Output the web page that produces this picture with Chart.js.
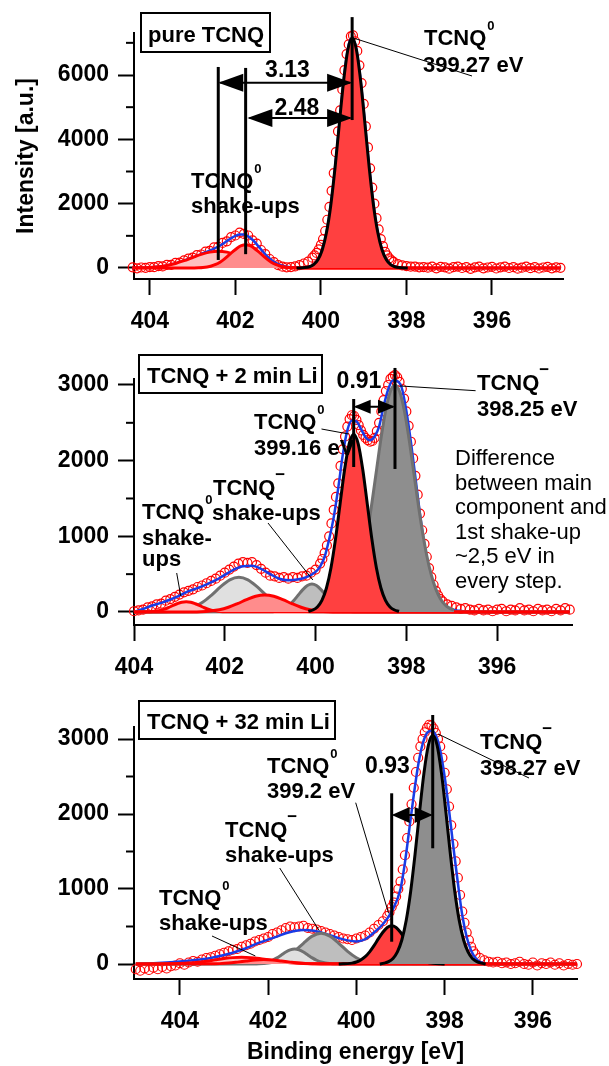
<!DOCTYPE html>
<html>
<head>
<meta charset="utf-8">
<script src="https://cdn.jsdelivr.net/npm/chart.js@4.4.1/dist/chart.umd.min.js"></script>
<style>
html, body { margin: 0; padding: 0; background: #fff; }
#wrap { position: relative; width: 609px; height: 1066px; background: #fff; }
canvas { position: absolute; left: 0; }
</style>
</head>
<body>
<div id="wrap">
  <canvas id="c1" width="609" height="340" style="top:0;width:609px;height:340px"></canvas>
  <canvas id="c2" width="609" height="345" style="top:340px;width:609px;height:345px"></canvas>
  <canvas id="c3" width="609" height="381" style="top:685px;width:609px;height:381px"></canvas>
</div>
<script>
// ---- axis ticks ----
const X_TICKS = [404, 402, 400, 398, 396];
const Y_TICKS_1 = [0, 2000, 4000, 6000];
const Y_MINOR_1 = [1000, 3000, 5000, 7000];
const Y_TICKS_23 = [0, 1000, 2000, 3000];
const Y_MINOR_23 = [500, 1500, 2500];

// ---- panel 1: pure TCNQ ----
const P1_E = [
  404.4, 404.3, 404.2, 404.1, 404.0, 403.9, 403.8, 403.7, 403.6, 403.5,
  403.4, 403.3, 403.2, 403.1, 403.0, 402.9, 402.8, 402.7, 402.6, 402.5,
  402.4, 402.3, 402.2, 402.1, 402.0, 401.9, 401.8, 401.7, 401.6, 401.5,
  401.4, 401.3, 401.2, 401.1, 401.0, 400.9, 400.8, 400.7, 400.6, 400.5,
  400.4, 400.3, 400.2, 400.15, 400.1, 400.05, 400.0, 399.95, 399.9, 399.85,
  399.8, 399.75, 399.7, 399.65, 399.6, 399.55, 399.5, 399.45, 399.4, 399.35,
  399.3, 399.25, 399.2, 399.15, 399.1, 399.05, 399.0, 398.95, 398.9, 398.85,
  398.8, 398.75, 398.7, 398.65, 398.6, 398.55, 398.5, 398.45, 398.4, 398.35,
  398.3, 398.2, 398.1, 398.0, 397.9, 397.8, 397.7, 397.6, 397.5,
  397.4, 397.3, 397.2, 397.1, 397.0, 396.9, 396.8, 396.7, 396.6, 396.5,
  396.4, 396.3, 396.2, 396.1, 396.0, 395.9, 395.8, 395.7, 395.6, 395.5,
  395.4, 395.3, 395.2, 395.1, 395.0, 394.9, 394.8, 394.7, 394.6, 394.5,
  394.4];
const P1_I = [
  20, -10, 15, 5, 30, 25, 60, 50, 95, 100,
  160, 170, 240, 290, 320, 400, 420, 510, 530, 640,
  660, 780, 830, 960, 1010, 1100, 1060, 1010, 860, 760,
  560, 430, 280, 180, 90, 40, 20, 30, 50, 90,
  140, 200, 320, 390, 470, 580, 720, 900, 1150, 1500,
  1900, 2400, 2950, 3600, 4250, 4900, 5550, 6150, 6650, 6950,
  7200, 7230, 7050, 6750, 6300, 5750, 5100, 4400, 3750, 3100,
  2500, 2000, 1550, 1200, 900, 680, 500, 390, 300, 240,
  190, 120, 80, 60, 40, 45, 20, 30, 10,
  40, -10, 35, 20, -20, 25, 45, 0, 30, -25,
  20, 40, -10, 15, 35, -15, 20, 45, 0, 25,
  -20, 10, 40, -5, 25, -15, 15, 35, -10, 20,
  5];
const P1_FIT_E = [404.4, 404.2, 404.0, 403.8, 403.6, 403.4, 403.2, 403.0, 402.8, 402.6,
  402.4, 402.3, 402.2, 402.1, 402.0, 401.9, 401.8, 401.7, 401.6, 401.5,
  401.4, 401.3, 401.2, 401.1, 401.0, 400.9, 400.8, 400.6, 400.4, 400.3,
  400.2, 400.1, 400.0, 399.9, 399.8, 399.7, 399.6, 399.5, 399.4, 399.3,
  399.2, 399.1, 399.0, 398.9, 398.8, 398.7, 398.6, 398.5, 398.4, 398.3,
  398.2, 398.0, 394.4];
const P1_FIT_I = [3, 8, 19, 41, 80, 142, 227, 326, 433, 541,
  669, 747, 835, 924, 999, 1044, 1042, 985, 879, 736,
  579, 427, 296, 193, 119, 70, 40, 13, 8, 29,
  79, 199, 447, 906, 1659, 2732, 4056, 5429, 6548, 7117,
  6970, 6152, 4894, 3508, 2266, 1319, 691, 327, 139, 54,
  18, 2, 0];
const P1_MAIN_E = [400.57, 400.37, 400.27, 400.17, 400.07, 399.97, 399.87, 399.77, 399.67, 399.57, 399.47, 399.37,
  399.27, 399.17, 399.07, 398.97, 398.87, 398.77, 398.67, 398.57, 398.47, 398.37, 398.27, 398.17, 397.97];
const P1_MAIN_I = [0, 13, 39, 106, 257, 558, 1101, 1945, 3110, 4476, 5806, 6785,
  7150, 6785, 5806, 4476, 3110, 1945, 1101, 558, 257, 106, 39, 13, 0];
const P1_SU1_E = [404.4, 404.2, 404.0, 403.8, 403.6, 403.4, 403.2, 403.0, 402.8, 402.6, 402.4,
  402.2, 402.0, 401.8, 401.6, 401.4, 401.2, 401.0, 400.8, 400.6, 400.4, 394.4];
const P1_SU1_I = [3, 8, 19, 41, 80, 142, 227, 326, 422, 493, 520,
  493, 422, 326, 227, 142, 80, 41, 19, 8, 3, 0];
const P1_SU2_E = [404.4, 402.96, 402.86, 402.76, 402.66, 402.56, 402.46, 402.36, 402.26, 402.16, 402.06, 401.96, 401.86,
  401.76, 401.66, 401.56, 401.46, 401.36, 401.26, 401.16, 401.06, 400.96, 400.86, 400.76, 400.66, 400.56, 394.4];
const P1_SU2_I = [0, 3, 7, 15, 32, 61, 109, 180, 275, 389, 509, 617, 693,
  720, 693, 617, 509, 389, 275, 180, 109, 61, 32, 15, 7, 3, 0];

// ---- panel 2: TCNQ + 2 min Li ----
const P2_E = [
  404.0, 403.9, 403.8, 403.7, 403.6, 403.5, 403.4, 403.3, 403.2, 403.1,
  403.0, 402.9, 402.8, 402.7, 402.6, 402.5, 402.4, 402.3, 402.2, 402.1,
  402.0, 401.9, 401.8, 401.7, 401.6, 401.5, 401.4, 401.3, 401.2, 401.1,
  401.0, 400.9, 400.8, 400.7, 400.6, 400.5, 400.4, 400.3, 400.2, 400.1,
  400.0, 399.9, 399.85, 399.8, 399.75, 399.7, 399.65, 399.6, 399.55, 399.5,
  399.45, 399.4, 399.35, 399.3, 399.25, 399.2, 399.15, 399.1, 399.05, 399.0,
  398.95, 398.9, 398.85, 398.8, 398.75, 398.7, 398.65, 398.6, 398.55, 398.5,
  398.45, 398.4, 398.35, 398.3, 398.25, 398.2, 398.15, 398.1, 398.05, 398.0,
  397.95, 397.9, 397.85, 397.8, 397.75, 397.7, 397.65, 397.6, 397.55, 397.5,
  397.45, 397.4, 397.35, 397.3, 397.25, 397.2, 397.1,
  397.0, 396.9, 396.8, 396.7, 396.6, 396.5, 396.4, 396.3, 396.2, 396.1,
  396.0, 395.9, 395.8, 395.7, 395.6, 395.5, 395.4, 395.3, 395.2, 395.1,
  395.0, 394.9, 394.8, 394.7, 394.6, 394.5, 394.4];
const P2_I = [
  10, 20, 30, 60, 75, 100, 110, 150, 170, 200,
  230, 260, 280, 300, 330, 350, 380, 410, 440, 480,
  520, 560, 600, 640, 660, 650, 660, 620, 570, 520,
  480, 470, 450, 460, 440, 460, 450, 470, 480, 520,
  560, 640, 700, 780, 880, 1000, 1170, 1350, 1520, 1700,
  1930, 2150, 2320, 2450, 2550, 2600, 2590, 2540, 2470, 2400,
  2340, 2300, 2270, 2250, 2260, 2300, 2390, 2500, 2650, 2800,
  2920, 3000, 3080, 3110, 3130, 3100, 3040, 2950, 2820, 2650,
  2460, 2250, 2030, 1800, 1550, 1300, 1080, 900, 730, 580,
  460, 360, 280, 220, 170, 140, 100,
  80, 60, 40, 50, 30, 20, 40, 20, 30, 10,
  30, 40, 10, 30, 20, 50, 20, 30, 10, 40,
  20, 30, 10, 40, 20, 50, 30];
const P2_FIT_E = [404.0, 403.8, 403.6, 403.4, 403.2, 403.0, 402.8, 402.6, 402.4, 402.2, 402.0,
  401.8, 401.6, 401.4, 401.2, 401.0, 400.8, 400.6, 400.4, 400.2, 400.0,
  399.9, 399.8, 399.7, 399.6, 399.5, 399.4, 399.3, 399.2, 399.1, 399.0,
  398.9, 398.8, 398.7, 398.6, 398.5, 398.4, 398.3, 398.2, 398.1, 398.0,
  397.9, 397.8, 397.7, 397.6, 397.5, 397.4, 397.3, 397.2, 397.1, 397.0,
  396.8, 396.4, 394.4];
const P2_FIT_I = [0, 40, 85, 120, 165, 215, 275, 315, 365, 420, 490,
  560, 605, 610, 570, 500, 440, 420, 428, 460, 530,
  600, 730, 960, 1250, 1640, 2080, 2400, 2530, 2520, 2420,
  2310, 2270, 2320, 2450, 2720, 2940, 3060, 3050, 2960, 2660,
  2250, 1780, 1300, 880, 560, 350, 200, 110, 60, 35,
  12, 0, 0];
const P2_ANION_E = [399.55, 399.45, 399.35, 399.25, 399.15, 399.05, 398.95, 398.85, 398.75, 398.65, 398.55, 398.45, 398.35,
  398.25, 398.15, 398.05, 397.95, 397.85, 397.75, 397.65, 397.55, 397.45, 397.35, 397.25, 397.15, 397.05, 396.95];
const P2_ANION_I = [25, 51, 97, 176, 302, 489, 747, 1080, 1476, 1905, 2325, 2679, 2916,
  3000, 2916, 2679, 2325, 1905, 1476, 1080, 747, 489, 302, 176, 97, 51, 25];
const P2_NEUTRAL_E = [400.16, 400.06, 399.96, 399.86, 399.76, 399.66, 399.56, 399.46, 399.36, 399.26,
  399.16, 399.06, 398.96, 398.86, 398.76, 398.66, 398.56, 398.46, 398.36, 398.26, 398.16];
const P2_NEUTRAL_I = [9, 26, 67, 154, 317, 585, 966, 1426, 1882, 2223,
  2350, 2223, 1882, 1426, 966, 585, 317, 154, 67, 26, 9];
const P2_ASU1_E = [404.0, 403.29, 403.09, 402.89, 402.69, 402.49, 402.29, 402.09, 401.89, 401.69,
  401.49, 401.29, 401.09, 400.89, 400.69, 400.49, 400.29, 400.09, 394.4];
const P2_ASU1_I = [0, 3, 9, 26, 62, 128, 224, 334, 425, 460, 425, 334, 224, 128, 62, 26, 9, 3, 0];
const P2_ASU2_E = [404.0, 400.98, 400.88, 400.78, 400.68, 400.58, 400.48, 400.38, 400.28, 400.18, 400.08,
  399.98, 399.88, 399.78, 399.68, 399.58, 399.48, 399.38, 399.28, 399.18, 394.4];
const P2_ASU2_I = [0, 4, 11, 24, 50, 92, 152, 225, 296, 350, 370, 350, 296, 225, 152, 92, 50, 24, 11, 4, 0];
const P2_NSU1_E = [404.0, 403.75, 403.65, 403.55, 403.45, 403.35, 403.25, 403.15, 403.05, 402.95, 402.85,
  402.75, 402.65, 402.55, 402.45, 402.35, 402.25, 402.15, 402.05, 401.95, 394.4];
const P2_NSU1_I = [0, 2, 4, 9, 18, 34, 56, 83, 109, 129, 136, 129, 109, 83, 56, 34, 18, 9, 4, 2, 0];
const P2_NSU2_E = [404.0, 402.72, 402.52, 402.32, 402.12, 401.92, 401.72, 401.52, 401.32, 401.12,
  400.92, 400.72, 400.52, 400.32, 400.12, 399.92, 399.72, 399.52, 394.4];
const P2_NSU2_I = [0, 1, 4, 13, 30, 63, 110, 163, 208, 225, 208, 163, 110, 63, 30, 13, 4, 1, 0];

// ---- panel 3: TCNQ + 32 min Li ----
const P3_E = [
  405.0, 404.9, 404.8, 404.7, 404.6, 404.5, 404.4, 404.3, 404.2, 404.1,
  404.0, 403.9, 403.8, 403.7, 403.6, 403.5, 403.4, 403.3, 403.2, 403.1,
  403.0, 402.9, 402.8, 402.7, 402.6, 402.5, 402.4, 402.3, 402.2, 402.1,
  402.0, 401.9, 401.8, 401.7, 401.6, 401.5, 401.4, 401.3, 401.2, 401.1,
  401.0, 400.9, 400.8, 400.7, 400.6, 400.5, 400.4, 400.3, 400.2, 400.1,
  400.0, 399.9, 399.8, 399.7, 399.6, 399.5, 399.4, 399.3, 399.25, 399.2,
  399.15, 399.1, 399.05, 399.0, 398.95, 398.9, 398.85, 398.8, 398.75, 398.7,
  398.65, 398.6, 398.55, 398.5, 398.45, 398.4, 398.35, 398.3, 398.25, 398.2,
  398.15, 398.1, 398.05, 398.0, 397.95, 397.9, 397.85, 397.8, 397.75, 397.7,
  397.65, 397.6, 397.55, 397.5, 397.45, 397.4, 397.35, 397.3, 397.2, 397.1,
  397.0, 396.9, 396.8, 396.7, 396.6, 396.5, 396.4, 396.3, 396.2, 396.1,
  396.0, 395.9, 395.8, 395.7, 395.6, 395.5, 395.4, 395.3, 395.2, 395.1,
  395.0];
const P3_I = [
  -70, -90, -60, -80, -50, -70, -40, -60, -30, -20,
  10, -10, 20, 40, 30, 60, 80, 90, 110, 130,
  150, 170, 190, 200, 230, 250, 270, 300, 320, 340,
  360, 400, 420, 450, 480, 500, 490, 500, 510, 480,
  470, 460, 440, 420, 400, 380, 360, 340, 330, 320,
  340, 360, 380, 420, 470, 520, 570, 640, 690, 760,
  820, 900, 1000, 1100, 1260, 1450, 1680, 1900, 2130, 2350,
  2560, 2750, 2900, 3000, 3090, 3150, 3190, 3180, 3140, 3080,
  3000, 2900, 2750, 2550, 2330, 2100, 1850, 1600, 1370, 1150,
  920, 700, 550, 420, 320, 230, 170, 130, 80, 50,
  30, 20, 30, 10, 20, 0, 10, 30, 0, -10,
  20, -20, 10, 0, 20, -10, 10, -20, 0, -10,
  0];
const P3_FIT_E = [405.0, 404.6, 404.2, 403.8, 403.4, 403.0,
  402.8, 402.6, 402.4, 402.2, 402.0, 401.8, 401.6, 401.4, 401.2, 401.0, 400.8, 400.6, 400.4, 400.2, 400.0,
  399.8, 399.6, 399.4, 399.2, 399.0,
  398.9, 398.8, 398.7, 398.6, 398.5, 398.4, 398.3, 398.2, 398.1, 398.0, 397.9, 397.8, 397.7, 397.6, 397.5, 397.4, 397.3, 397.2,
  397.0, 395.0];
const P3_FIT_I = [0, 10, 25, 45, 70, 120,
  150, 190, 235, 285, 325, 365, 410, 440, 452, 448, 420, 385, 345, 315, 300,
  330, 420, 530, 700, 1000,
  1350, 1800, 2250, 2650, 2930, 3080, 3110, 3050, 2850, 2500, 2050, 1550, 1080, 650, 360, 180, 80, 30,
  5, 0];
const P3_ANION_E = [399.47, 399.37, 399.27, 399.17, 399.07, 398.97, 398.87, 398.77, 398.67, 398.57, 398.47, 398.37,
  398.27, 398.17, 398.07, 397.97, 397.87, 397.77, 397.67, 397.57, 397.47, 397.37, 397.27, 397.17, 397.07];
const P3_ANION_I = [0, 12, 31, 74, 162, 320, 583, 967, 1464, 2019, 2538, 2913,
  3050, 2913, 2538, 2019, 1464, 967, 583, 320, 162, 74, 31, 12, 0];
const P3_NEUTRAL_E = [400.4, 400.3, 400.2, 400.1, 400.0, 399.9, 399.8, 399.7, 399.6, 399.5, 399.4, 399.3,
  399.2, 399.1, 399.0, 398.9, 398.8, 398.7, 398.6, 398.5, 398.4, 398.3, 398.2, 398.1, 398.0];
const P3_NEUTRAL_I = [0, 2, 5, 12, 27, 54, 97, 162, 245, 338, 424, 487,
  510, 487, 424, 338, 245, 162, 97, 54, 27, 12, 5, 2, 0];
const P3_ASU1_E = [405.0, 402.2, 402.0, 401.8, 401.6, 401.4, 401.2, 401.0, 400.8,
  400.6, 400.4, 400.2, 400.0, 399.8, 399.6, 399.4, 395.0];
const P3_ASU1_I = [0, 3, 12, 35, 84, 169, 276, 371, 410, 371, 276, 169, 84, 35, 12, 3, 0];
const P3_ASU2_E = [405.0, 402.3, 402.2, 402.1, 402.0, 401.9, 401.8, 401.7, 401.6, 401.5, 401.4,
  401.3, 401.2, 401.1, 401.0, 400.9, 400.8, 400.7, 400.6, 400.5, 395.0];
const P3_ASU2_I = [0, 2, 6, 13, 27, 50, 82, 121, 160, 189, 200, 189, 160, 121, 82, 50, 27, 13, 6, 2, 0];
const P3_NSU1_E = [405.0, 404.4, 404.2, 404.0, 403.8, 403.6, 403.4, 403.2, 403.0, 402.8, 402.6,
  402.4, 402.2, 402.0, 401.8, 401.6, 401.4, 401.2, 401.0, 400.8, 395.0];
const P3_NSU1_I = [0, 1, 3, 6, 12, 22, 37, 55, 72, 85, 90, 85, 72, 55, 37, 22, 12, 6, 3, 1, 0];
const P3_NSU2_E = [405.0, 403.3, 403.1, 402.9, 402.7, 402.5, 402.3, 402.1, 401.9, 401.7, 401.5, 401.3, 401.1, 400.9, 395.0];
const P3_NSU2_I = [0, 2, 5, 12, 25, 40, 54, 60, 54, 40, 25, 12, 5, 2, 0];

// ---- styles ----
const FONT = '"Liberation Sans", Arial, Helvetica, sans-serif';
const C = {
  red: 'rgb(255,0,0)', blue: 'rgb(25,60,230)', black: '#000', grayLine: 'rgb(112,112,112)',
  fRed: 'rgb(255,64,64)', fPink: 'rgb(255,192,192)', fPink2: 'rgb(255,140,140)',
  fGray: 'rgb(142,142,142)', fGray2: 'rgb(190,190,190)', fGray3: 'rgb(224,224,224)'
};

// annotation text / lines for each panel (lines in data units, text in canvas px)
const NOTES = {
  c1: {
    minor: Y_MINOR_1,
    box: [141, 13, 129, 39],
    marks: [[399.27, 7800, 4600], [402.40, 6250, 250], [401.76, 6220, 430]],
    arrows: [[402.40, 399.27, 5760, 25, 9], [401.72, 399.27, 4665, 25, 9]],
    leaders: [[399.24, 7150, 472, 76]],
    texts: [
      ['pure TCNQ', 148, 42, 22, true, 'left'],
      ['3.13', 287.5, 77, 23, true, 'center'],
      ['2.48', 297, 115, 23, true, 'center'],
      ['TCNQ', 424, 45, 22, true, 'left', '0'],
      ['399.27 eV', 423, 72, 22, true, 'left'],
      ['TCNQ', 191, 188, 22, true, 'left', '0'],
      ['shake-ups', 191, 213, 22, true, 'left']
    ]
  },
  c2: {
    minor: Y_MINOR_23,
    box: [139, 15, 183, 38],
    marks: [[399.16, 2815, 1916], [398.25, 3225, 1890]],
    arrows: [[399.16, 398.25, 2713, 17, 7]],
    leaders: [[398.14, 2987, 475.6, 50.7], [399.27, 2352, 321.5, 89], [400.06, 423, 268, 183], [402.97, 211, 176.7, 233]],
    texts: [
      ['TCNQ + 2 min Li', 147, 43, 22, true, 'left'],
      ['0.91', 359, 48, 23, true, 'center'],
      ['TCNQ', 477, 50, 22, true, 'left', '\u2212'],
      ['398.25 eV', 477, 76, 22, true, 'left'],
      ['TCNQ', 254, 89, 22, true, 'left', '0'],
      ['399.16 eV', 254, 115, 22, true, 'left'],
      ['TCNQ', 213, 155, 22, true, 'left', '\u2212'],
      ['shake-ups', 212, 180, 22, true, 'left'],
      ['TCNQ', 142, 179, 22, true, 'left', '0'],
      ['shake-', 142, 205, 22, true, 'left'],
      ['ups', 142, 226, 22, true, 'left'],
      ['Difference', 455, 125, 22, false, 'left'],
      ['between main', 455, 149.5, 22, false, 'left'],
      ['component and', 455, 174, 22, false, 'left'],
      ['1st shake-up', 455, 198.5, 22, false, 'left'],
      ['~2,5 eV in', 455, 223, 22, false, 'left'],
      ['every step.', 455, 247.5, 22, false, 'left']
    ]
  },
  c3: {
    minor: Y_MINOR_23,
    box: [139, 16, 196, 38],
    marks: [[399.2, 2276, 297], [398.27, 3320, 1543]],
    arrows: [[399.2, 398.27, 1987, 18, 8]],
    leaders: [[398.15, 3067, 529, 93], [399.27, 676, 355.7, 117.7], [400.84, 444, 279.7, 183], [402.29, 107, 212, 251]],
    texts: [
      ['TCNQ + 32 min Li', 147, 44, 22, true, 'left'],
      ['0.93', 387.5, 88, 23, true, 'center'],
      ['TCNQ', 480, 64, 22, true, 'left', '\u2212'],
      ['398.27 eV', 480, 90, 22, true, 'left'],
      ['TCNQ', 267, 88, 22, true, 'left', '0'],
      ['399.2 eV', 267, 113, 22, true, 'left'],
      ['TCNQ', 225, 152, 22, true, 'left', '\u2212'],
      ['shake-ups', 225, 177, 22, true, 'left'],
      ['TCNQ', 159, 220, 22, true, 'left', '0'],
      ['shake-ups', 159, 245, 22, true, 'left']
    ]
  }
};

function seg(ctx, x0, y0, x1, y1) {
  ctx.beginPath(); ctx.moveTo(x0, y0); ctx.lineTo(x1, y1); ctx.stroke();
}
function head(ctx, tx, ty, dir, len, half) {
  ctx.beginPath();
  ctx.moveTo(tx, ty);
  ctx.lineTo(tx + dir * len, ty - half);
  ctx.lineTo(tx + dir * len, ty + half);
  ctx.closePath();
  ctx.fill();
}

const notesPlugin = {
  id: 'notes',
  afterDraw(chart) {
    const n = NOTES[chart.canvas.id];
    if (!n) return;
    const ctx = chart.ctx, sx = chart.scales.x, sy = chart.scales.y;
    const X = e => sx.getPixelForValue(e), Y = v => sy.getPixelForValue(v);
    const left = chart.chartArea.left;
    ctx.save();
    ctx.strokeStyle = C.black; ctx.fillStyle = C.black;
    ctx.lineWidth = 2;
    n.minor.forEach(v => seg(ctx, left - 8, Y(v), left, Y(v)));

    const [bx, by, bw, bh] = n.box;
    ctx.fillStyle = '#fff'; ctx.fillRect(bx, by, bw, bh);
    ctx.strokeRect(bx, by, bw, bh);
    ctx.fillStyle = C.black;

    ctx.lineWidth = 3;
    n.marks.forEach(([e, v0, v1]) => seg(ctx, X(e), Y(v0), X(e), Y(v1)));

    ctx.lineWidth = 2;
    n.arrows.forEach(([e0, e1, v, hl, hh]) => {
      const x0 = X(e0), x1 = X(e1), y = Y(v);
      seg(ctx, x0 + 2, y, x1 - 2, y);
      head(ctx, x0, y, 1, hl, hh);
      head(ctx, x1, y, -1, hl, hh);
    });

    ctx.textBaseline = 'alphabetic';
    n.texts.forEach(([t, x, y, size, bold, align, sup]) => {
      ctx.font = (bold ? 'bold ' : '') + size + 'px ' + FONT;
      ctx.textAlign = align;
      ctx.fillText(t, x, y);
      if (sup) {
        const w = ctx.measureText(t).width;
        ctx.textAlign = 'left';
        if (sup === '0') { ctx.font = 'bold 13px ' + FONT; ctx.fillText(sup, x + w + 1, y - 15); }
        else { ctx.font = 'bold 17px ' + FONT; ctx.fillText(sup, x + w, y - 15); }
      }
    });

    ctx.lineWidth = 1;
    n.leaders.forEach(([e, v, px, py]) => seg(ctx, X(e), Y(v), px, py));
    ctx.restore();
  }
};

function pts(E, I) { return E.map((e, i) => ({x: e, y: I[i]})); }
function dots(E, I) {
  return {data: pts(E, I), showLine: false, pointStyle: 'circle', pointRadius: 4.5, pointBorderWidth: 1.2,
    pointBorderColor: C.red, pointBackgroundColor: 'rgba(0,0,0,0)', borderColor: C.red, clip: false};
}
function curve(E, I, line, w) {
  return {data: pts(E, I), borderColor: line, borderWidth: w, fill: false, pointRadius: 0,
    cubicInterpolationMode: 'monotone', clip: false};
}
function comp(E, I, fillCol, line) {
  return {...curve(E, I, line, 3), fill: 'origin', backgroundColor: fillCol};
}

function axes(p) {
  const tickFont = {family: FONT, size: 23, weight: 'bold'};
  const grid = {display: true, drawOnChartArea: false, drawTicks: true, tickLength: 16, tickWidth: 2, tickColor: C.black};
  const border = {display: true, color: C.black, width: 2};
  return {
    x: {
      type: 'linear', reverse: true, min: p.xmin, max: p.xmax,
      afterBuildTicks: s => { s.ticks = X_TICKS.map(v => ({value: v})); },
      afterFit: s => { s.height = p.xh; },
      ticks: {color: C.black, font: tickFont, padding: 13, maxRotation: 0, autoSkip: false, callback: v => String(v)},
      grid, border,
      title: {display: !!p.xtitle, text: p.xtitle || '', color: C.black, font: tickFont, padding: {top: 0, bottom: 0}}
    },
    y: {
      type: 'linear', min: p.ymin, max: p.ymax,
      afterBuildTicks: s => { s.ticks = p.yticks.map(v => ({value: v})); },
      afterFit: s => { s.width = 134; },
      ticks: {color: C.black, font: tickFont, padding: 9, callback: v => String(v)},
      grid, border,
      title: {display: !!p.ytitle, text: p.ytitle || '', color: C.black, font: tickFont, padding: {top: 13, bottom: 0}}
    }
  };
}

function mkPanel(id, p, datasets) {
  new Chart(document.getElementById(id), {
    type: 'line',
    data: {datasets},
    options: {
      responsive: false, animation: false, devicePixelRatio: 1, events: [],
      layout: {padding: {top: p.top, right: 609 - p.right, bottom: 0, left: 0}},
      plugins: {legend: {display: false}, tooltip: {enabled: false}},
      scales: axes(p)
    },
    plugins: [notesPlugin]
  });
}

// datasets listed top-most first: fitted components, envelope, measured points
mkPanel('c1', {xmin: 394.34, xmax: 404.37, ymin: -342, ymax: 7306, top: 33, right: 563, xh: 61,
  yticks: Y_TICKS_1, ytitle: 'Intensity [a.u.]'}, [
  comp(P1_MAIN_E, P1_MAIN_I, C.fRed, C.black),
  comp(P1_SU2_E, P1_SU2_I, C.fPink2, C.red),
  comp(P1_SU1_E, P1_SU1_I, C.fPink, C.red),
  curve(P1_FIT_E, P1_FIT_I, C.blue, 2.5),
  dots(P1_E, P1_I)
]);

mkPanel('c2', {xmin: 394.35, xmax: 404.0, ymin: -172, ymax: 3079, top: 39, right: 572, xh: 60,
  yticks: Y_TICKS_23}, [
  comp(P2_NEUTRAL_E, P2_NEUTRAL_I, C.fRed, C.black),
  comp(P2_ANION_E, P2_ANION_I, C.fGray, C.grayLine),
  comp(P2_NSU2_E, P2_NSU2_I, C.fPink2, C.red),
  comp(P2_NSU1_E, P2_NSU1_I, C.fPink, C.red),
  comp(P2_ASU2_E, P2_ASU2_I, C.fGray2, C.grayLine),
  comp(P2_ASU1_E, P2_ASU1_I, C.fGray3, C.grayLine),
  curve(P2_FIT_E, P2_FIT_I, C.blue, 2.5),
  dots(P2_E, P2_I)
]);

mkPanel('c3', {xmin: 395.0, xmax: 405.04, ymin: -200, ymax: 3160, top: 42, right: 577, xh: 87,
  yticks: Y_TICKS_23, xtitle: 'Binding energy [eV]'}, [
  comp(P3_ANION_E, P3_ANION_I, C.fGray, C.black),
  comp(P3_NEUTRAL_E, P3_NEUTRAL_I, C.fRed, C.black),
  comp(P3_NSU2_E, P3_NSU2_I, C.fPink2, C.red),
  comp(P3_NSU1_E, P3_NSU1_I, C.fPink, C.red),
  comp(P3_ASU2_E, P3_ASU2_I, C.fGray3, C.grayLine),
  comp(P3_ASU1_E, P3_ASU1_I, C.fGray2, C.grayLine),
  curve(P3_FIT_E, P3_FIT_I, C.blue, 2.5),
  dots(P3_E, P3_I)
]);
</script>
</body>
</html>
